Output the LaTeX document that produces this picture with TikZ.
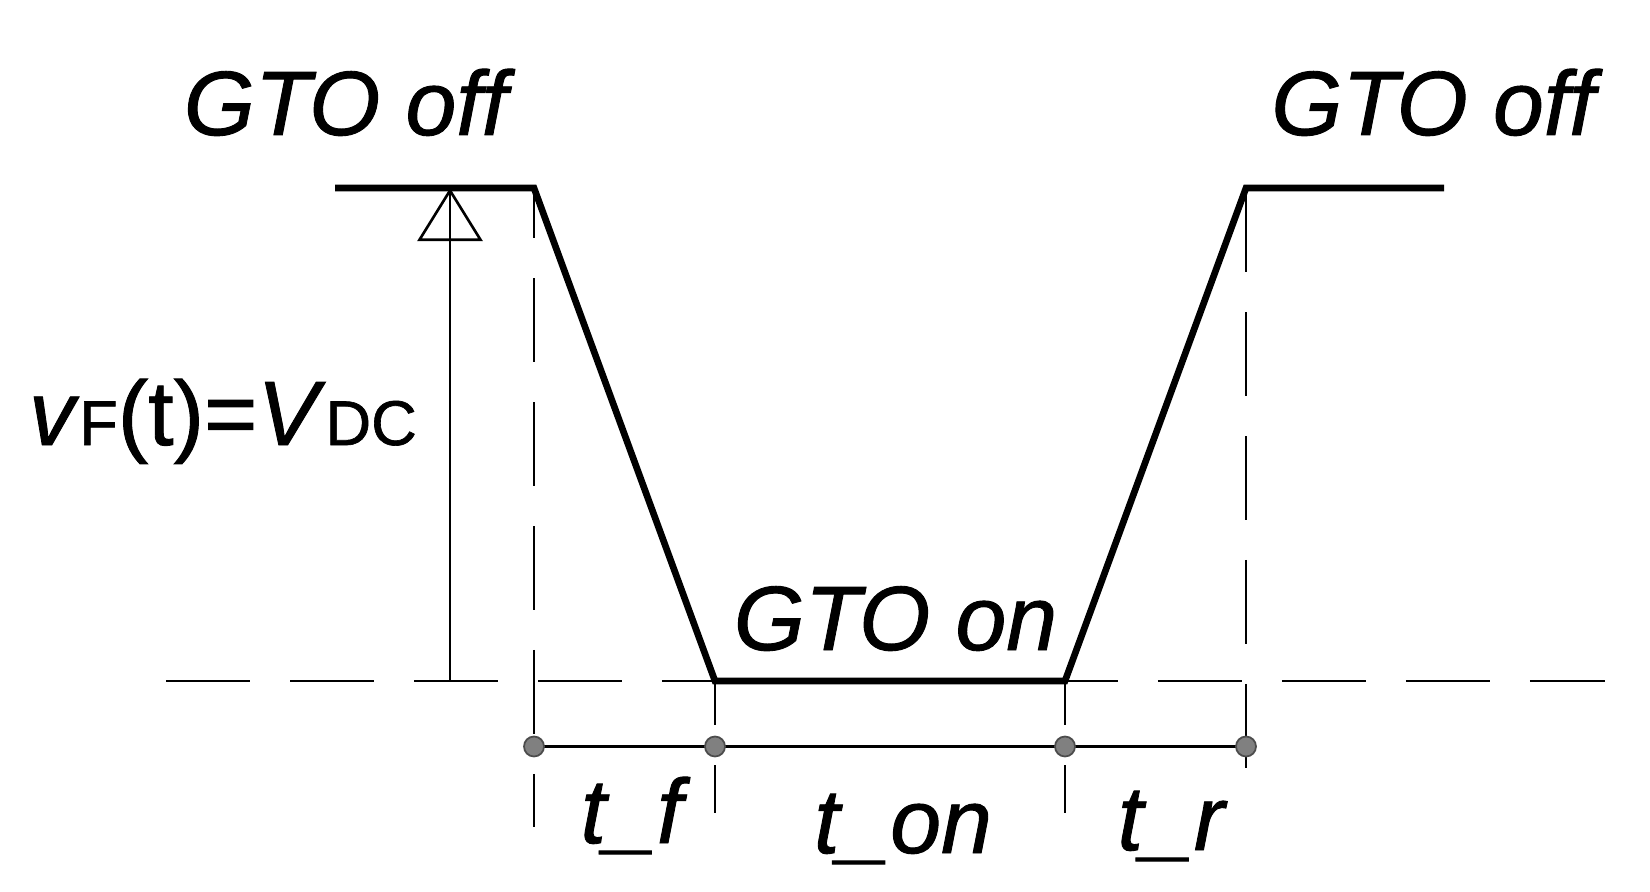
\documentclass[tikz,border=0pt]{standalone}
\usepackage{fontspec}
\setmainfont{Liberation Sans}[FakeBold=1]
\usetikzlibrary{arrows.meta}

\tikzset{
    wave/.style={black, line width=1.9pt, line join=miter},
    thinline/.style={black, line width=0.75pt},
    dashline/.style={black, line width=0.75pt, dash pattern=on 0.84cm off 0.40cm},
    lbl/.style={font=\fontsize{26}{31}\selectfont\itshape, inner sep=0pt, anchor=base},
    tdot/.style={circle, fill=gray, draw=black!70, line width=0.5pt, inner sep=0pt, minimum size=0.2cm},
}

\begin{document}
\begin{tikzpicture}
        \useasboundingbox (0,0) rectangle (16.5,8.91);

        % corners of the voltage curve
        \coordinate (s)  at (3.35,7.03);
        \coordinate (f0) at (5.34,7.03);
        \coordinate (f1) at (7.15,2.10);
        \coordinate (r0) at (10.65,2.10);
        \coordinate (r1) at (12.46,7.03);
        \coordinate (e)  at (14.44,7.03);

        % zero line
        \coordinate (z0) at (1.66,2.10);
        \coordinate (z1) at (16.05,2.10);
        \draw [dashline] (z0) -- (z1);

        % guides down to the time axis
        \coordinate (g0) at (5.34,0.64);
        \coordinate (g1) at (7.15,0.78);
        \coordinate (g2) at (10.65,0.78);
        \coordinate (g3) at (12.46,0.86);
        \draw [dashline, dash phase=0.34cm] (f0) -- (g0);
        \draw [dashline, dash phase=0.40cm] (f1) -- (g1);
        \draw [dashline, dash phase=0.40cm] (r0) -- (g2);
        \draw [dashline] (r1) -- (g3);

        % time axis
        \coordinate (t0) at (5.34,1.445);
        \coordinate (t1) at (7.15,1.445);
        \coordinate (t2) at (10.65,1.445);
        \coordinate (t3) at (12.46,1.445);
        \draw [thinline] (t0) -- (t3);
        \foreach \i in {0,...,3} {
            \node [tdot] (d\i) at (t\i) {};
        }

        % amplitude arrow
        \coordinate (a0) at (4.50,2.10);
        \coordinate (a1) at (4.50,7.03);
        \draw [thinline] (a0) -- (a1);
        \draw [thinline, -{Triangle[open, length=0.53cm, width=0.65cm]}] (a0) -- (a1);

        \draw [wave] (s) -- (f0) -- (f1) -- (r0) -- (r1) -- (e);

        \node [lbl] (offL) at (3.455,7.56) {GTO off};
        \node [lbl] (offR) at (14.33,7.56) {GTO off};
        \node [lbl] (on) at (8.955,2.41) {GTO on};
        \node [lbl, font=\fontsize{26}{31}\selectfont] (vf) at (2.23,4.46) {\textit{v}{\fontsize{18}{22}\selectfont F}(t)=\textit{V}{\fontsize{18}{22}\selectfont DC}};
        \node [lbl] (tf) at (6.315,0.48) {t\_f};
        \node [lbl] (ton) at (9.03,0.38) {t\_on};
        \node [lbl] (tr) at (11.71,0.41) {t\_r};
    \end{tikzpicture}
\end{document}
